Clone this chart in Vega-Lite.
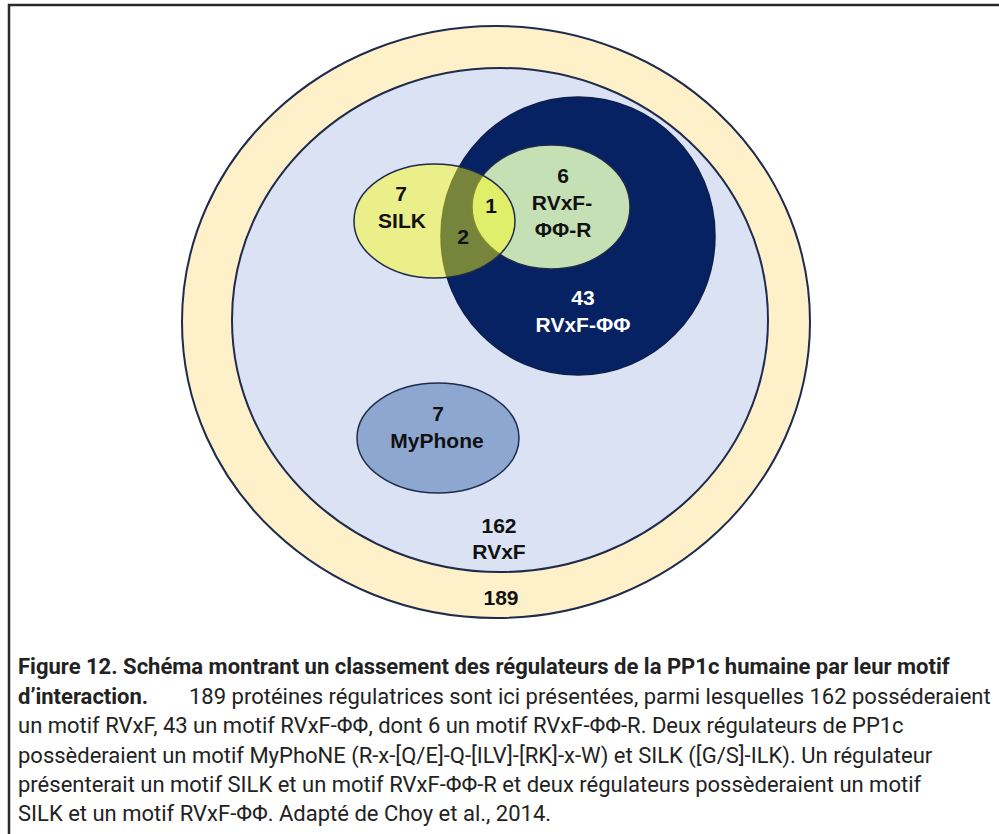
{
  "$schema": "https://vega.github.io/schema/vega-lite/v6.json",
  "width": 999,
  "height": 834,
  "padding": 0,
  "autosize": {"type": "none"},
  "background": "#ffffff",
  "config": {"view": {"stroke": null}},
  "datasets": {
    "frame": [{"x": 9, "x2": 1020, "y": 5, "y2": 850}],
    "sets": [
      {"set": "189", "cx": 496, "cy": 322},
      {"set": "162 RVxF", "cx": 500, "cy": 320},
      {"set": "43 RVxF-ΦΦ", "cx": 578, "cy": 236},
      {"set": "6 RVxF-ΦΦ-R", "cx": 551, "cy": 207},
      {"set": "7 SILK", "cx": 434.5, "cy": 221},
      {"set": "7 MyPhone", "cx": 438, "cy": 438}
    ],
    "labels": [
      {"x": 401, "y": 195, "text": "7", "tone": "dark"},
      {"x": 402, "y": 222, "text": "SILK", "tone": "dark"},
      {"x": 491, "y": 207, "text": "1", "tone": "dark"},
      {"x": 463, "y": 238, "text": "2", "tone": "dark"},
      {"x": 563, "y": 177, "text": "6", "tone": "dark"},
      {"x": 562, "y": 204, "text": "RVxF-", "tone": "dark"},
      {"x": 563, "y": 231, "text": "ΦΦ-R", "tone": "dark"},
      {"x": 583, "y": 299, "text": "43", "tone": "light"},
      {"x": 583, "y": 326, "text": "RVxF-ΦΦ", "tone": "light"},
      {"x": 438, "y": 415, "text": "7", "tone": "dark"},
      {"x": 437, "y": 442, "text": "MyPhone", "tone": "dark"},
      {"x": 499, "y": 527, "text": "162", "tone": "dark"},
      {"x": 499, "y": 553, "text": "RVxF", "tone": "dark"},
      {"x": 501, "y": 599, "text": "189", "tone": "dark"}
    ],
    "caption": [
      {"x": 18, "y": 667, "text": "Figure 12. Schéma montrant un classement des régulateurs de la PP1c humaine par leur motif", "w": "bold"},
      {"x": 18, "y": 697, "text": "d’interaction.", "w": "bold"},
      {"x": 189, "y": 697, "text": "189 protéines régulatrices sont ici présentées, parmi lesquelles 162 posséderaient", "w": "normal"},
      {"x": 18, "y": 726, "text": "un motif RVxF, 43 un motif RVxF-ΦΦ, dont 6 un motif RVxF-ΦΦ-R. Deux régulateurs de PP1c", "w": "normal"},
      {"x": 18, "y": 756, "text": "possèderaient un motif MyPhoNE (R-x-[Q/E]-Q-[ILV]-[RK]-x-W) et SILK ([G/S]-ILK). Un régulateur", "w": "normal"},
      {"x": 18, "y": 785, "text": "présenterait un motif SILK et un motif RVxF-ΦΦ-R et deux régulateurs possèderaient un motif", "w": "normal"},
      {"x": 18, "y": 814, "text": "SILK et un motif RVxF-ΦΦ. Adapté de Choy et al., 2014.", "w": "normal"}
    ]
  },
  "encoding": {
    "x": {"type": "quantitative", "axis": null, "scale": {"domain": [0, 999], "nice": false, "zero": false}},
    "y": {"type": "quantitative", "axis": null, "scale": {"domain": [0, 834], "nice": false, "zero": false, "reverse": true}}
  },
  "layer": [
    {
      "data": {"name": "frame"},
      "mark": {"type": "rect", "fill": null, "stroke": "#2a2a2a", "strokeWidth": 2.5, "clip": false},
      "encoding": {"x": {"field": "x"}, "x2": {"field": "x2"}, "y": {"field": "y"}, "y2": {"field": "y2"}}
    },
    {
      "data": {"name": "sets"},
      "transform": [{"filter": "datum.set === '189'"}],
      "mark": {"type": "point", "filled": true, "size": 4, "opacity": 1, "fill": "#FEF0C9", "stroke": "#1E2B4C", "strokeWidth": 2, "shape": "M -314 0 A 314 296 0 1 0 314 0 A 314 296 0 1 0 -314 0 Z"},
      "encoding": {"x": {"field": "cx"}, "y": {"field": "cy"}}
    },
    {
      "data": {"name": "sets"},
      "transform": [{"filter": "datum.set === '162 RVxF'"}],
      "mark": {"type": "point", "filled": true, "size": 4, "opacity": 1, "fill": "#DAE2F3", "stroke": "#1E2B4C", "strokeWidth": 2, "shape": "M -268 0 A 268 252 0 1 0 268 0 A 268 252 0 1 0 -268 0 Z"},
      "encoding": {"x": {"field": "cx"}, "y": {"field": "cy"}}
    },
    {
      "data": {"name": "sets"},
      "transform": [{"filter": "datum.set === '43 RVxF-ΦΦ'"}],
      "mark": {"type": "point", "filled": true, "size": 4, "opacity": 1, "fill": "#062263", "stroke": "#0E1E4A", "strokeWidth": 1.5, "shape": "M -137 0 A 137 139 0 1 0 137 0 A 137 139 0 1 0 -137 0 Z"},
      "encoding": {"x": {"field": "cx"}, "y": {"field": "cy"}}
    },
    {
      "data": {"name": "sets"},
      "transform": [{"filter": "datum.set === '6 RVxF-ΦΦ-R'"}],
      "mark": {"type": "point", "filled": true, "size": 4, "opacity": 1, "fill": "#C6E0B6", "stroke": "#1E2B4C", "strokeWidth": 1.5, "shape": "M -79 0 A 79 62 0 1 0 79 0 A 79 62 0 1 0 -79 0 Z"},
      "encoding": {"x": {"field": "cx"}, "y": {"field": "cy"}}
    },
    {
      "data": {"name": "sets"},
      "transform": [{"filter": "datum.set === '7 SILK'"}],
      "mark": {"type": "point", "filled": true, "size": 4, "opacity": 1, "fill": "#FFFF0A", "fillOpacity": 0.45, "stroke": "#1E2B4C", "strokeOpacity": 1, "strokeWidth": 1.5, "shape": "M -80.5 0 A 80.5 57 0 1 0 80.5 0 A 80.5 57 0 1 0 -80.5 0 Z"},
      "encoding": {"x": {"field": "cx"}, "y": {"field": "cy"}}
    },
    {
      "data": {"name": "sets"},
      "transform": [{"filter": "datum.set === '7 MyPhone'"}],
      "mark": {"type": "point", "filled": true, "size": 4, "opacity": 1, "fill": "#8EA7D1", "stroke": "#1E2B4C", "strokeWidth": 1.5, "shape": "M -81 0 A 81 55 0 1 0 81 0 A 81 55 0 1 0 -81 0 Z"},
      "encoding": {"x": {"field": "cx"}, "y": {"field": "cy"}}
    },
    {
      "data": {"name": "labels"},
      "transform": [{"filter": "datum.tone === 'dark'"}],
      "mark": {"type": "text", "align": "center", "baseline": "middle", "font": "Liberation Sans", "fontWeight": "bold", "fontSize": 21, "fill": "#111111"},
      "encoding": {"x": {"field": "x"}, "y": {"field": "y"}, "text": {"field": "text"}}
    },
    {
      "data": {"name": "labels"},
      "transform": [{"filter": "datum.tone === 'light'"}],
      "mark": {"type": "text", "align": "center", "baseline": "middle", "font": "Liberation Sans", "fontWeight": "bold", "fontSize": 21, "fill": "#ffffff"},
      "encoding": {"x": {"field": "x"}, "y": {"field": "y"}, "text": {"field": "text"}}
    },
    {
      "data": {"name": "caption"},
      "transform": [{"filter": "datum.w === 'bold'"}],
      "mark": {"type": "text", "align": "left", "baseline": "middle", "font": "Roboto", "fontWeight": "bold", "fontSize": 22, "fill": "#222222"},
      "encoding": {"x": {"field": "x"}, "y": {"field": "y"}, "text": {"field": "text"}}
    },
    {
      "data": {"name": "caption"},
      "transform": [{"filter": "datum.w === 'normal'"}],
      "mark": {"type": "text", "align": "left", "baseline": "middle", "font": "Roboto", "fontWeight": "normal", "fontSize": 22, "fill": "#222222"},
      "encoding": {"x": {"field": "x"}, "y": {"field": "y"}, "text": {"field": "text"}}
    }
  ]
}
